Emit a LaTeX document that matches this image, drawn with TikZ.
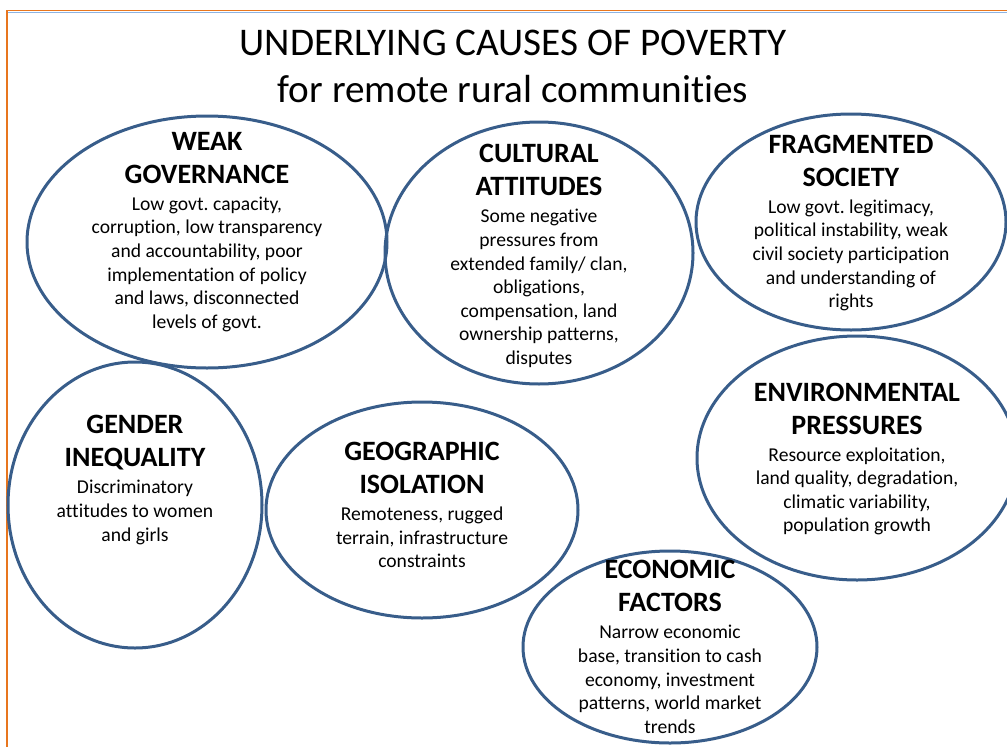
\documentclass[tikz,border=0pt]{standalone}
\usepackage{fontspec}
\setmainfont{Carlito}[Ligatures=CommonOff]
\usepackage{xcolor}
\definecolor{rimblue}{RGB}{56,93,138}
\definecolor{frameorange}{RGB}{232,118,30}
\definecolor{framesky}{RGB}{142,180,227}
\usetikzlibrary{shapes.geometric}
\newcommand{\causehead}[1]{{\fontsize{28}{33.6}\selectfont\bfseries #1}}
\frenchspacing

\begin{document}
\begin{tikzpicture}[x=1pt,y=-1pt,
    bubble/.style={ellipse,draw=rimblue,line width=3pt,inner sep=0pt},
    cause/.style={align=center,inner sep=0pt,font=\fontsize{19.6}{23.6}\selectfont}]
  \useasboundingbox (0,0) rectangle (1007,747);
  \draw[framesky,line width=1.2pt] (8,12.3) -- (1007,12.3);
  \draw[frameorange,line width=1.8pt] (7,747) -- (7,10.5) -- (1007,10.5);

  \node[align=center,inner sep=0pt,font=\fontsize{39.2}{46.5}\selectfont] (title) at (513,66.5)
    {UNDERLYING CAUSES OF POVERTY\\for remote rural communities};

  % the seven bubbles
  \node[bubble,minimum width=360,minimum height=252] (weak) at (207,242) {};
  \node[bubble,minimum width=308,minimum height=262] (cult) at (539,253) {};
  \node[bubble,minimum width=310,minimum height=216] (frag) at (851,222) {};
  \node[bubble,minimum width=254,minimum height=286] (gend) at (135,505) {};
  \node[bubble,minimum width=312,minimum height=216] (geo) at (422,510) {};
  \node[bubble,minimum width=320,minimum height=244] (env) at (857,458) {};
  \node[bubble,minimum width=294,minimum height=192] (econ) at (670,647) {};

  \node[cause] (weak-t) at ([yshift=10pt]weak.center) {\causehead{WEAK}\\[9.4pt]\causehead{GOVERNANCE}\\[3.4pt]
    Low govt. capacity,\\corruption, low transparency\\and accountability, poor\\implementation of policy\\and laws, disconnected\\levels of govt.};
  \node[cause] (cult-t) at ([yshift=-3pt]cult.center) {\causehead{CULTURAL}\\[9.4pt]\causehead{ATTITUDES}\\[3.4pt]
    Some negative\\pressures from\\extended family/ clan,\\obligations,\\compensation, land\\ownership patterns,\\disputes};
  \node[cause] (frag-t) at ([yshift=-1pt]frag.center) {\causehead{FRAGMENTED}\\[9.4pt]\causehead{SOCIETY}\\[3.4pt]
    Low govt. legitimacy,\\political instability, weak\\civil society participation\\and understanding of\\rights};
  \node[cause] (gend-t) at ([yshift=25pt]gend.center) {\causehead{GENDER}\\[9.4pt]\causehead{INEQUALITY}\\[3.4pt]
    Discriminatory\\attitudes to women\\and girls};
  \node[cause] (geo-t) at ([yshift=5pt]geo.center) {\causehead{GEOGRAPHIC}\\[9.4pt]\causehead{ISOLATION}\\[3.4pt]
    Remoteness, rugged\\terrain, infrastructure\\constraints};
  \node[cause] (env-t) at ([yshift=-1pt]env.center) {\causehead{ENVIRONMENTAL}\\[9.4pt]\causehead{PRESSURES}\\[3.4pt]
    Resource exploitation,\\land quality, degradation,\\climatic variability,\\population growth};
  \node[cause] (econ-t) at (econ.center) {\causehead{ECONOMIC}\\[9.4pt]\causehead{FACTORS}\\[3.4pt]
    Narrow economic\\base, transition to cash\\economy, investment\\patterns, world market\\trends};
\end{tikzpicture}
\end{document}
